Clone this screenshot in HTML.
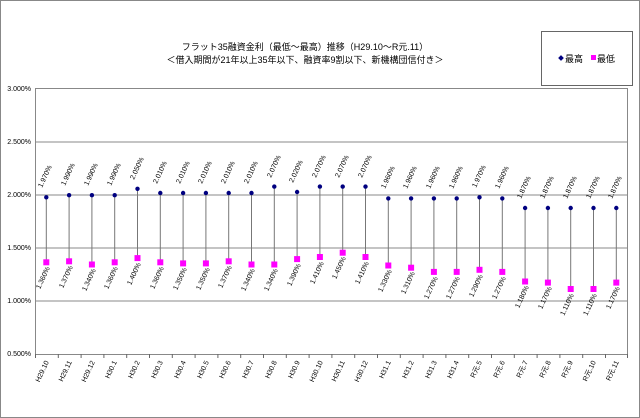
<!DOCTYPE html>
<html><head><meta charset="utf-8"><style>
html,body{margin:0;padding:0;background:#fff}
svg{display:block;font-family:"Liberation Sans","Noto Sans CJK JP",sans-serif}
</style></head><body>
<svg width="640" height="418" viewBox="0 0 640 418" xmlns="http://www.w3.org/2000/svg">
<rect x="0.5" y="0.5" width="639" height="417" fill="#fff" stroke="#888"/>
<text x="305" y="50" font-size="9" text-anchor="middle">フラット35融資金利（最低～最高）推移（H29.10～R元.11）</text>
<text x="305" y="63" font-size="9" text-anchor="middle">＜借入期間が21年以上35年以下、融資率9割以下、新機構団信付き＞</text>
<rect x="541.5" y="31.5" width="91" height="54" fill="#fff" stroke="#666"/>
<rect x="559" y="56" width="4" height="4" fill="#000080" transform="rotate(45 561 58)"/>
<text x="565" y="62" font-size="9">最高</text>
<rect x="591" y="55" width="5" height="5" fill="#ff00ff"/>
<text x="597" y="62" font-size="9">最低</text>
<g stroke="#888" stroke-width="1">
<rect x="35.5" y="88.5" width="592" height="266" fill="none" stroke="#888"/>
<line x1="35" y1="142" x2="628" y2="142"/>
<line x1="35" y1="195" x2="628" y2="195"/>
<line x1="35" y1="248" x2="628" y2="248"/>
<line x1="35" y1="301" x2="628" y2="301"/>
</g>
<g stroke="#666" stroke-width="1">
<line x1="35.5" y1="354" x2="35.5" y2="358"/><line x1="58.3" y1="354" x2="58.3" y2="358"/><line x1="81.1" y1="354" x2="81.1" y2="358"/><line x1="103.9" y1="354" x2="103.9" y2="358"/><line x1="126.7" y1="354" x2="126.7" y2="358"/><line x1="149.5" y1="354" x2="149.5" y2="358"/><line x1="172.3" y1="354" x2="172.3" y2="358"/><line x1="195.1" y1="354" x2="195.1" y2="358"/><line x1="217.9" y1="354" x2="217.9" y2="358"/><line x1="240.7" y1="354" x2="240.7" y2="358"/><line x1="263.5" y1="354" x2="263.5" y2="358"/><line x1="286.3" y1="354" x2="286.3" y2="358"/><line x1="309.1" y1="354" x2="309.1" y2="358"/><line x1="331.9" y1="354" x2="331.9" y2="358"/><line x1="354.7" y1="354" x2="354.7" y2="358"/><line x1="377.5" y1="354" x2="377.5" y2="358"/><line x1="400.3" y1="354" x2="400.3" y2="358"/><line x1="423.1" y1="354" x2="423.1" y2="358"/><line x1="445.9" y1="354" x2="445.9" y2="358"/><line x1="468.7" y1="354" x2="468.7" y2="358"/><line x1="491.5" y1="354" x2="491.5" y2="358"/><line x1="514.3" y1="354" x2="514.3" y2="358"/><line x1="537.1" y1="354" x2="537.1" y2="358"/><line x1="559.9" y1="354" x2="559.9" y2="358"/><line x1="582.7" y1="354" x2="582.7" y2="358"/><line x1="605.5" y1="354" x2="605.5" y2="358"/><line x1="627.5" y1="354" x2="627.5" y2="358"/>
</g>
<g font-size="7" text-anchor="end">
<text x="31" y="91">3.000%</text>
<text x="31" y="144">2.500%</text>
<text x="31" y="197">2.000%</text>
<text x="31" y="250">1.500%</text>
<text x="31" y="303">1.000%</text>
<text x="31" y="356">0.500%</text>
</g>
<g stroke="#777" stroke-width="1">
<line x1="46.3" y1="197.3" x2="46.3" y2="262.3"/><line x1="69.1" y1="195.2" x2="69.1" y2="261.3"/><line x1="91.9" y1="195.2" x2="91.9" y2="264.5"/><line x1="114.7" y1="195.2" x2="114.7" y2="262.3"/><line x1="137.5" y1="188.8" x2="137.5" y2="258.1"/><line x1="160.3" y1="193" x2="160.3" y2="262.3"/><line x1="183.1" y1="193" x2="183.1" y2="263.4"/><line x1="205.9" y1="193" x2="205.9" y2="263.4"/><line x1="228.7" y1="193" x2="228.7" y2="261.3"/><line x1="251.5" y1="193" x2="251.5" y2="264.5"/><line x1="274.3" y1="186.6" x2="274.3" y2="264.5"/><line x1="297.1" y1="192" x2="297.1" y2="259.1"/><line x1="319.9" y1="186.6" x2="319.9" y2="257"/><line x1="342.7" y1="186.6" x2="342.7" y2="252.7"/><line x1="365.5" y1="186.6" x2="365.5" y2="257"/><line x1="388.3" y1="198.4" x2="388.3" y2="265.5"/><line x1="411.1" y1="198.4" x2="411.1" y2="267.7"/><line x1="433.9" y1="198.4" x2="433.9" y2="271.9"/><line x1="456.7" y1="198.4" x2="456.7" y2="271.9"/><line x1="479.5" y1="197.3" x2="479.5" y2="269.8"/><line x1="502.3" y1="198.4" x2="502.3" y2="271.9"/><line x1="525.1" y1="208" x2="525.1" y2="281.5"/><line x1="547.9" y1="208" x2="547.9" y2="282.6"/><line x1="570.7" y1="208" x2="570.7" y2="289"/><line x1="593.5" y1="208" x2="593.5" y2="289"/><line x1="616.3" y1="208" x2="616.3" y2="282.6"/>
</g>
<g fill="#000080">
<circle cx="46.3" cy="197.3" r="2.2"/><circle cx="69.1" cy="195.2" r="2.2"/><circle cx="91.9" cy="195.2" r="2.2"/><circle cx="114.7" cy="195.2" r="2.2"/><circle cx="137.5" cy="188.8" r="2.2"/><circle cx="160.3" cy="193" r="2.2"/><circle cx="183.1" cy="193" r="2.2"/><circle cx="205.9" cy="193" r="2.2"/><circle cx="228.7" cy="193" r="2.2"/><circle cx="251.5" cy="193" r="2.2"/><circle cx="274.3" cy="186.6" r="2.2"/><circle cx="297.1" cy="192" r="2.2"/><circle cx="319.9" cy="186.6" r="2.2"/><circle cx="342.7" cy="186.6" r="2.2"/><circle cx="365.5" cy="186.6" r="2.2"/><circle cx="388.3" cy="198.4" r="2.2"/><circle cx="411.1" cy="198.4" r="2.2"/><circle cx="433.9" cy="198.4" r="2.2"/><circle cx="456.7" cy="198.4" r="2.2"/><circle cx="479.5" cy="197.3" r="2.2"/><circle cx="502.3" cy="198.4" r="2.2"/><circle cx="525.1" cy="208" r="2.2"/><circle cx="547.9" cy="208" r="2.2"/><circle cx="570.7" cy="208" r="2.2"/><circle cx="593.5" cy="208" r="2.2"/><circle cx="616.3" cy="208" r="2.2"/>
</g>
<g fill="#ff00ff">
<rect x="43.3" y="259.3" width="6" height="6"/><rect x="66.1" y="258.3" width="6" height="6"/><rect x="88.9" y="261.5" width="6" height="6"/><rect x="111.7" y="259.3" width="6" height="6"/><rect x="134.5" y="255.1" width="6" height="6"/><rect x="157.3" y="259.3" width="6" height="6"/><rect x="180.1" y="260.4" width="6" height="6"/><rect x="202.9" y="260.4" width="6" height="6"/><rect x="225.7" y="258.3" width="6" height="6"/><rect x="248.5" y="261.5" width="6" height="6"/><rect x="271.3" y="261.5" width="6" height="6"/><rect x="294.1" y="256.1" width="6" height="6"/><rect x="316.9" y="254" width="6" height="6"/><rect x="339.7" y="249.7" width="6" height="6"/><rect x="362.5" y="254" width="6" height="6"/><rect x="385.3" y="262.5" width="6" height="6"/><rect x="408.1" y="264.7" width="6" height="6"/><rect x="430.9" y="268.9" width="6" height="6"/><rect x="453.7" y="268.9" width="6" height="6"/><rect x="476.5" y="266.8" width="6" height="6"/><rect x="499.3" y="268.9" width="6" height="6"/><rect x="522.1" y="278.5" width="6" height="6"/><rect x="544.9" y="279.6" width="6" height="6"/><rect x="567.7" y="286" width="6" height="6"/><rect x="590.5" y="286" width="6" height="6"/><rect x="613.3" y="279.6" width="6" height="6"/>
</g>
<g font-size="7">
<text transform="translate(42,188) rotate(-65)">1.970%</text><text transform="translate(65,186) rotate(-65)">1.990%</text><text transform="translate(88,186) rotate(-65)">1.990%</text><text transform="translate(111,186) rotate(-65)">1.990%</text><text transform="translate(134,180) rotate(-65)">2.050%</text><text transform="translate(157,184) rotate(-65)">2.010%</text><text transform="translate(180,184) rotate(-65)">2.010%</text><text transform="translate(202,184) rotate(-65)">2.010%</text><text transform="translate(225,184) rotate(-65)">2.010%</text><text transform="translate(248,184) rotate(-65)">2.010%</text><text transform="translate(271,178) rotate(-65)">2.070%</text><text transform="translate(293,183) rotate(-65)">2.020%</text><text transform="translate(316,178) rotate(-65)">2.070%</text><text transform="translate(339,178) rotate(-65)">2.070%</text><text transform="translate(362,178) rotate(-65)">2.070%</text><text transform="translate(385,189) rotate(-65)">1.960%</text><text transform="translate(407,189) rotate(-65)">1.960%</text><text transform="translate(430,189) rotate(-65)">1.960%</text><text transform="translate(453,189) rotate(-65)">1.960%</text><text transform="translate(476,188) rotate(-65)">1.970%</text><text transform="translate(499,189) rotate(-65)">1.960%</text><text transform="translate(521,199) rotate(-65)">1.870%</text><text transform="translate(544,199) rotate(-65)">1.870%</text><text transform="translate(567,199) rotate(-65)">1.870%</text><text transform="translate(590,199) rotate(-65)">1.870%</text><text transform="translate(612,199) rotate(-65)">1.870%</text>
</g>
<g font-size="7" text-anchor="end">
<text transform="translate(50,268) rotate(-65)">1.360%</text><text transform="translate(73,267) rotate(-65)">1.370%</text><text transform="translate(96,270) rotate(-65)">1.340%</text><text transform="translate(118,268) rotate(-65)">1.360%</text><text transform="translate(141,264) rotate(-65)">1.400%</text><text transform="translate(164,268) rotate(-65)">1.360%</text><text transform="translate(187,269) rotate(-65)">1.350%</text><text transform="translate(210,269) rotate(-65)">1.350%</text><text transform="translate(232,267) rotate(-65)">1.370%</text><text transform="translate(255,270) rotate(-65)">1.340%</text><text transform="translate(278,270) rotate(-65)">1.340%</text><text transform="translate(301,265) rotate(-65)">1.390%</text><text transform="translate(324,263) rotate(-65)">1.410%</text><text transform="translate(346,258) rotate(-65)">1.450%</text><text transform="translate(369,263) rotate(-65)">1.410%</text><text transform="translate(392,271) rotate(-65)">1.330%</text><text transform="translate(415,273) rotate(-65)">1.310%</text><text transform="translate(438,278) rotate(-65)">1.270%</text><text transform="translate(460,278) rotate(-65)">1.270%</text><text transform="translate(483,276) rotate(-65)">1.290%</text><text transform="translate(506,278) rotate(-65)">1.270%</text><text transform="translate(529,287) rotate(-65)">1.180%</text><text transform="translate(552,288) rotate(-65)">1.170%</text><text transform="translate(574,295) rotate(-65)">1.110%</text><text transform="translate(597,295) rotate(-65)">1.110%</text><text transform="translate(620,288) rotate(-65)">1.170%</text>
</g>
<g font-size="7" text-anchor="end">
<text transform="translate(49,362) rotate(-65)">H29.10</text><text transform="translate(72,362) rotate(-65)">H29.11</text><text transform="translate(95,362) rotate(-65)">H29.12</text><text transform="translate(117,362) rotate(-65)">H30.1</text><text transform="translate(140,362) rotate(-65)">H30.2</text><text transform="translate(163,362) rotate(-65)">H30.3</text><text transform="translate(186,362) rotate(-65)">H30.4</text><text transform="translate(209,362) rotate(-65)">H30.5</text><text transform="translate(231,362) rotate(-65)">H30.6</text><text transform="translate(254,362) rotate(-65)">H30.7</text><text transform="translate(277,362) rotate(-65)">H30.8</text><text transform="translate(300,362) rotate(-65)">H30.9</text><text transform="translate(323,362) rotate(-65)">H30.10</text><text transform="translate(345,362) rotate(-65)">H30.11</text><text transform="translate(368,362) rotate(-65)">H30.12</text><text transform="translate(391,362) rotate(-65)">H31.1</text><text transform="translate(414,362) rotate(-65)">H31.2</text><text transform="translate(437,362) rotate(-65)">H31.3</text><text transform="translate(459,362) rotate(-65)">H31.4</text><text transform="translate(482,362) rotate(-65)">R元.5</text><text transform="translate(505,362) rotate(-65)">R元.6</text><text transform="translate(528,362) rotate(-65)">R元.7</text><text transform="translate(551,362) rotate(-65)">R元.8</text><text transform="translate(573,362) rotate(-65)">R元.9</text><text transform="translate(596,362) rotate(-65)">R元.10</text><text transform="translate(619,362) rotate(-65)">R元.11</text>
</g>
</svg>
</body></html>
